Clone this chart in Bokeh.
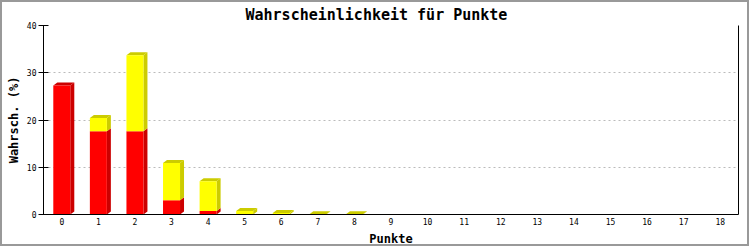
from bokeh.plotting import figure
from bokeh.models import LinearAxis, FixedTicker, Range1d
from bokeh.embed import file_html
from bokeh.resources import INLINE

# ---- data ----
points = ["0", "1", "2", "3", "4", "5", "6", "7", "8", "9",
          "10", "11", "12", "13", "14", "15", "16", "17", "18"]
red = [27.3, 17.6, 17.6, 3.0, 0.75, 0, 0, 0, 0, 0, 0, 0, 0, 0, 0, 0, 0, 0, 0]
yellow = [0, 2.8, 16.1, 7.9, 6.3, 0.75, 0.3, 0.05, 0.05, 0, 0, 0, 0, 0, 0, 0, 0, 0, 0]
y_ticks = [0, 10, 20, 30, 40]

title = "Wahrscheinlichkeit für Punkte"
x_label = "Punkte"
y_label = "Wahrsch. (%)"

# ---- layout ----
W, H = 749, 246
BL, BR, BT, BB = 41, 13, 23, 34
FW = W - BL - BR
FH = H - BT - BB
YMAX = 40

RED, RED_D = "#FF0000", "#CC0000"
YEL, YEL_D = "#FFFF00", "#CCCC00"
FONT = "DejaVu Sans Mono"

n = len(points)
xs = list(range(n))
px_x = FW / n
px_y = FH / YMAX
dx = 4 / px_x
dy = 3 / px_y
bw = 17 / px_x

p = figure(width=W, height=H, output_backend="svg", toolbar_location=None,
           x_range=Range1d(-0.5, n - 0.5), y_range=Range1d(0, YMAX),
           min_border_left=BL, min_border_right=BR, min_border_top=BT,
           min_border_bottom=BB, title=title)
p.styles = {"border": "2px solid #999999"}
p.outline_line_color = None
p.background_fill_color = "white"
p.border_fill_color = "white"

p.title.align = "left"
p.title.offset = 202
p.title.standoff = 0
p.title.vertical_align = "top"
p.title.text_font = FONT
p.title.text_font_size = "15px"
p.title.text_font_style = "bold"
p.title.text_color = "black"

# side and top faces (3D effect)
side_xs, side_ys, side_c = [], [], []
for i in range(n):
    r, y = red[i], yellow[i]
    tot = r + y
    if tot <= 0:
        continue
    xl = xs[i] - bw / 2
    xr = xs[i] + bw / 2
    if r > 0:
        side_xs.append([xr, xr + dx, xr + dx, xr])
        side_ys.append([0, dy, r + dy, r])
        side_c.append(RED_D)
    if y > 0:
        side_xs.append([xr, xr + dx, xr + dx, xr])
        side_ys.append([r, r + dy, tot + dy, tot])
        side_c.append(YEL_D)
    side_xs.append([xl, xl + dx, xr + dx, xr])
    side_ys.append([tot, tot + dy, tot + dy, tot])
    side_c.append(YEL_D if y > 0 else RED_D)

p.patches(side_xs, side_ys, fill_color=side_c, line_color=None)

# front faces
tops = [r + y for r, y in zip(red, yellow)]
p.vbar(x=xs, width=bw, bottom=0, top=red, fill_color=RED, line_color=None)
p.vbar(x=xs, width=bw, bottom=red, top=tops, fill_color=YEL, line_color=None)

# axes
p.xgrid.visible = False
p.ygrid.grid_line_color = "#BBBBBB"
p.ygrid.grid_line_dash = "2 3"
p.ygrid.ticker = FixedTicker(ticks=y_ticks)

xa = p.xaxis[0]
xa.ticker = FixedTicker(ticks=xs)
xa.major_label_overrides = {i: points[i] for i in xs}
xa.major_tick_out = 0
xa.major_tick_in = 0
xa.minor_tick_line_color = None
xa.major_label_standoff = 3
xa.major_label_text_font = FONT
xa.major_label_text_font_size = "8px"
xa.major_label_text_color = "black"
xa.axis_label = x_label
xa.axis_label_text_font = FONT
xa.axis_label_text_font_size = "12px"
xa.axis_label_text_font_style = "bold"
xa.axis_label_text_color = "black"
xa.axis_label_standoff = 4
xa.axis_line_color = "black"

ya = p.yaxis[0]
ya.ticker = FixedTicker(ticks=y_ticks)
ya.major_tick_out = 5
ya.major_tick_in = 5
ya.minor_tick_line_color = None
ya.major_label_standoff = 2
ya.major_label_text_font = FONT
ya.major_label_text_font_size = "8px"
ya.major_label_text_color = "black"
ya.axis_label = y_label
ya.axis_label_text_font = FONT
ya.axis_label_text_font_size = "12px"
ya.axis_label_text_font_style = "bold"
ya.axis_label_text_color = "black"
ya.axis_label_standoff = 3
ya.axis_line_color = "black"

ra = LinearAxis(major_tick_line_color=None, minor_tick_line_color=None,
                major_label_text_font_size="0px", axis_line_color="black")
ra.ticker = FixedTicker(ticks=[])
p.add_layout(ra, "right")

open("out.html", "w").write(file_html(p, INLINE))
